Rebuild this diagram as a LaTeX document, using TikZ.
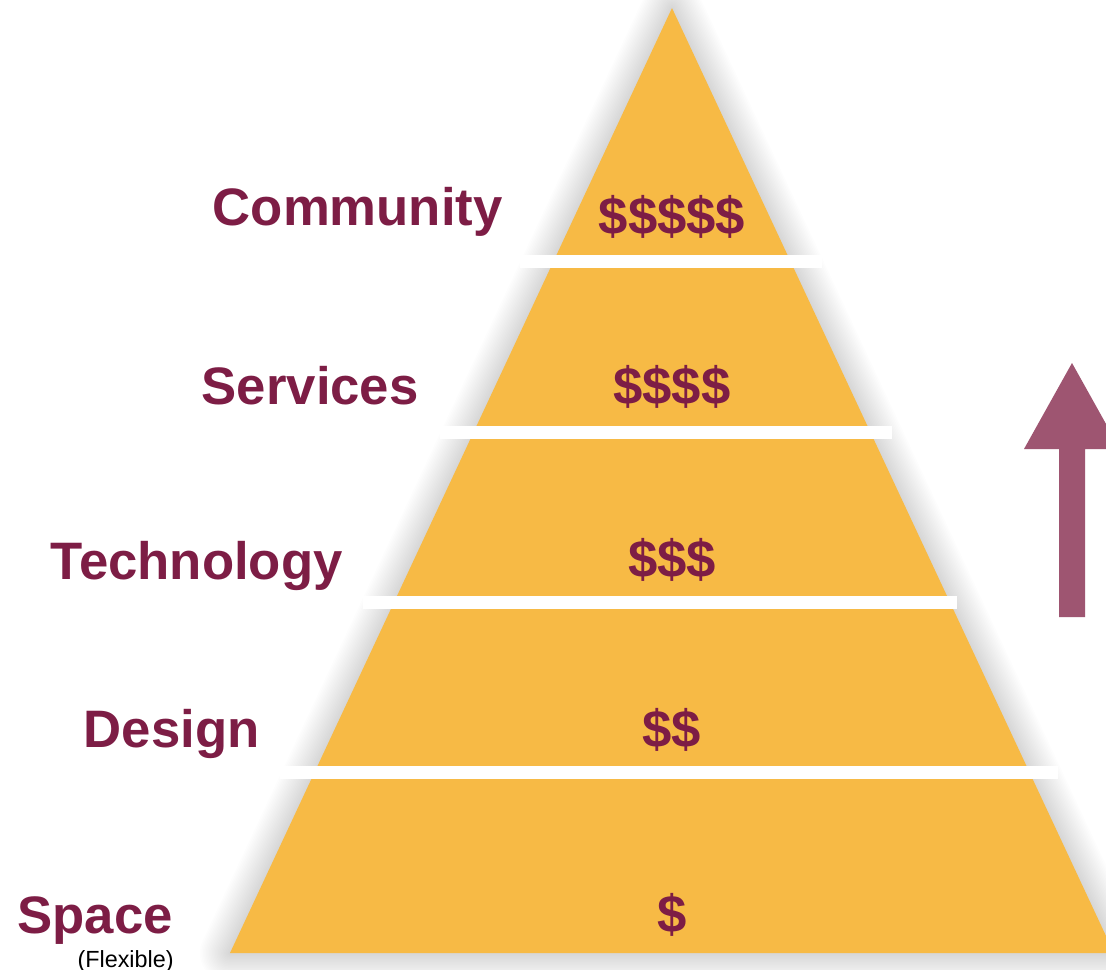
\documentclass[tikz,border=0pt]{standalone}
\usepackage{fontspec}
\setmainfont{Liberation Sans}
\usetikzlibrary{positioning}
\definecolor{pyrgelb}{HTML}{F7BA45}
\definecolor{weinrot}{HTML}{7D1D45}
\definecolor{pfeilrot}{HTML}{9E5571}

\begin{document}
\begin{tikzpicture}[
	x=0.02cm,
	y=-0.02cm,
	schatten/.style={
		draw=black,
		draw opacity=0.009,
		line join=round
	},
	stufe/.style={
		fill=pyrgelb
	},
	fuge/.style={
		fill=white
	},
	ebene/.style={
		font=\fontsize{30}{36}\selectfont\bfseries,
		text=weinrot,
		inner sep=0pt,
		anchor=base east
	},
	preis/.style={
		font=\fontsize{30}{36}\selectfont\bfseries,
		text=weinrot,
		inner sep=0pt
	}
]
\clip (0,0) rectangle (1106,970);
\fill[white] (0,0) rectangle (1106,970);

% Pyramide mit weichem Schatten
\coordinate (A) at (672,8);
\coordinate (L) at (230,953);
\coordinate (R) at (1114,953);
\foreach \w in {3,6,...,60}
	\draw[schatten, line width=\w*0.02cm, shift={(2,4)}] (A) -- (R) -- (L) -- cycle;
\fill[stufe] (A) -- (R) -- (L) -- cycle;

% Fugen zwischen den Stufen
\foreach \y/\l/\r in {261/520/822, 432/440/892, 602/363/957, 772/280/1058}
	\fill[fuge] (\l,\y-6.5) rectangle (\r,\y+6.5);

% Ebenen
\node[ebene] (COMM) at (503,225) {Community};
\node[ebene] (SERV) at (419,404) {Services};
\node[ebene] (TECH) at (343,579) {Technology};
\node[ebene] (DES) at (260,747) {Design};
\node[ebene] (SPACE) at (173,933) {Space};
\node[font=\fontsize{13.3}{16}\selectfont, inner sep=0pt, anchor=base east]
	(FLEX) at (174,967) {(Flexible)};

% Kosten
\node[preis] (P5) at (672,217) {\$\$\$\$\$};
\node[preis] (P4) at (672,387) {\$\$\$\$};
\node[preis] (P3) at (672,560) {\$\$\$};
\node[preis] (P2) at (672,730) {\$\$};
\node[preis] (P1) at (672,915) {\$};

% Pfeil
\fill[pfeilrot] (1059,617) -- (1059,449) -- (1024,449) -- (1072,363)
	-- (1120,449) -- (1085,449) -- (1085,617) -- cycle;

\end{tikzpicture}
\end{document}
